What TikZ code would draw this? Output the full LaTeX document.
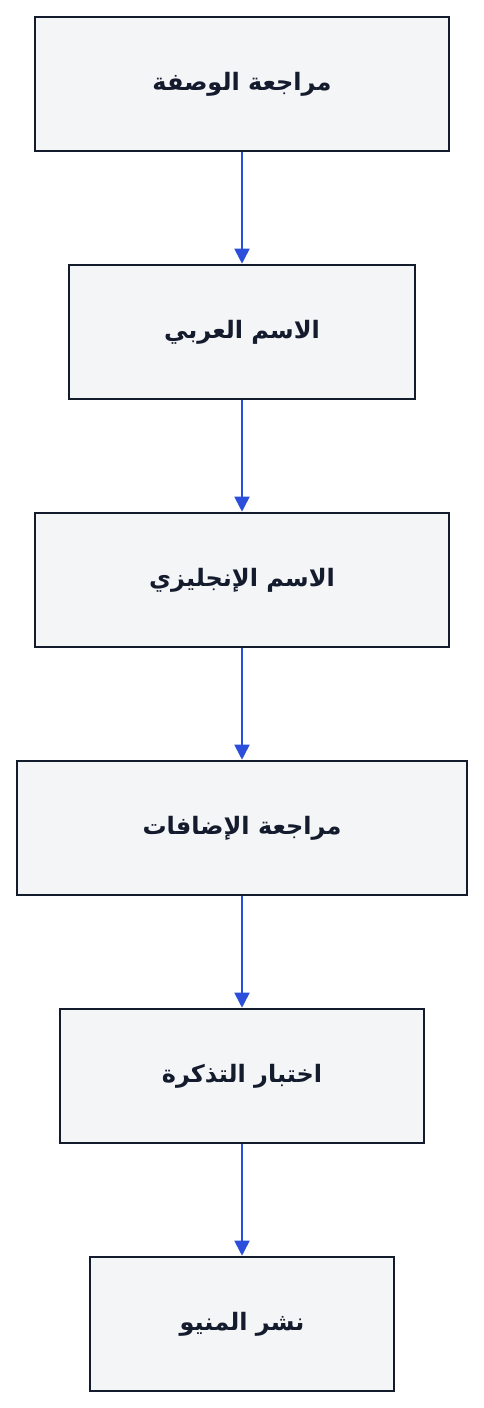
\documentclass[tikz,border=0pt]{standalone}
\usepackage{fontspec}
\usetikzlibrary{arrows.meta}
\TeXXeTstate=1
\newfontfamily\arabicfont[Script=Arabic]{DejaVu Sans}
\definecolor{boxfill}{HTML}{F4F5F7}
\definecolor{boxline}{HTML}{141B2D}
\definecolor{arrowblue}{HTML}{2B4FDB}
\tikzset{
  stepbox/.style={draw=boxline, fill=boxfill, line width=1.6pt, minimum height=134pt, inner sep=0pt,
    font=\arabicfont\bfseries\fontsize{24}{28}\selectfont, text=boxline},
  flow/.style={draw=arrowblue, line width=1.8pt, -{Triangle[width=15pt,length=15pt]}, shorten >=0.5pt}
}
\begin{document}
\begin{tikzpicture}[x=1pt,y=-1pt]
\useasboundingbox (0,0) rectangle (484,1408);
\fill[white] (0,0) rectangle (484,1408);
\node[stepbox, minimum width=414pt] (a) at (242,84) {\beginR مراجعة الوصفة\endR};
\node[stepbox, minimum width=346pt] (b) at (242,332) {\beginR الاسم العربي\endR};
\node[stepbox, minimum width=414pt] (c) at (242,580) {\beginR الاسم الإنجليزي\endR};
\node[stepbox, minimum width=450pt] (d) at (242,828) {\beginR مراجعة الإضافات\endR};
\node[stepbox, minimum width=364pt] (e) at (242,1076) {\beginR اختبار التذكرة\endR};
\node[stepbox, minimum width=304pt] (f) at (242,1324) {\beginR نشر المنيو\endR};
\draw[flow] (a) -- (b);
\draw[flow] (b) -- (c);
\draw[flow] (c) -- (d);
\draw[flow] (d) -- (e);
\draw[flow] (e) -- (f);
\end{tikzpicture}
\end{document}
